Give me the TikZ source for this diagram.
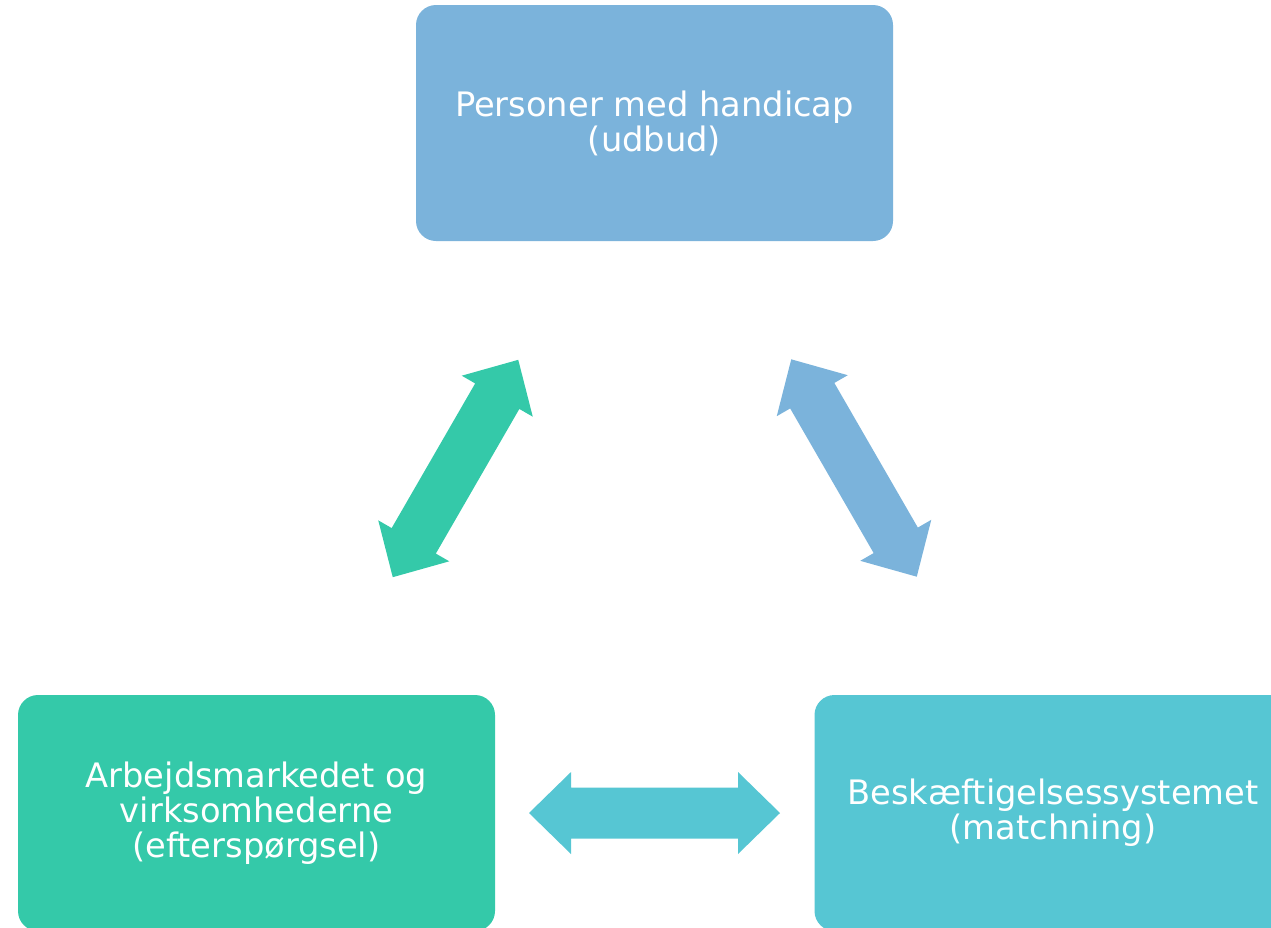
\documentclass[tikz,border=0pt]{standalone}
\usepackage{fontspec}
\setmainfont{DejaVu Sans}
\definecolor{cblue}{HTML}{7BB3DB}
\definecolor{cgreen}{HTML}{34C9A9}
\definecolor{ccyan}{HTML}{56C6D3}
\tikzset{
  box/.style={rounded corners=20pt, minimum width=477pt, minimum height=236pt,
    inner sep=0pt, align=center, text=white,
    font=\fontsize{33.7}{35}\selectfont},
  blockarrow/.style={shift={#1}},
}
\newcommand{\dblblockarrow}[3]{%
  \fill[#3, shift={#1}, rotate=#2]
    (-125.5,0) -- (-83.5,41) -- (-83.5,25.5) -- (83.5,25.5) -- (83.5,41)
    -- (125.5,0) -- (83.5,-41) -- (83.5,-25.5) -- (-83.5,-25.5) -- (-83.5,-41) -- cycle;}
\begin{document}
\begin{tikzpicture}[x=1pt,y=1pt]
\useasboundingbox (0,0) rectangle (1271,-927);
\node[box, fill=cblue] (top) at (654.5,-123) {Personer med handicap\\(udbud)};
\node[box, fill=cgreen] (left) at (256.5,-813) {Arbejdsmarkedet og\\virksomhederne\\(efterspørgsel)};
\node[box, fill=ccyan] (right) at (1053,-813) {Beskæftigelsessystemet\\(matchning)};
\coordinate (ga) at (455.5,-468.5);
\coordinate (ba) at (854,-468);
\coordinate (ca) at (654.5,-813);
\dblblockarrow{(ga)}{60}{cgreen}
\dblblockarrow{(ba)}{-60}{cblue}
\dblblockarrow{(ca)}{0}{ccyan}
\end{tikzpicture}
\end{document}
